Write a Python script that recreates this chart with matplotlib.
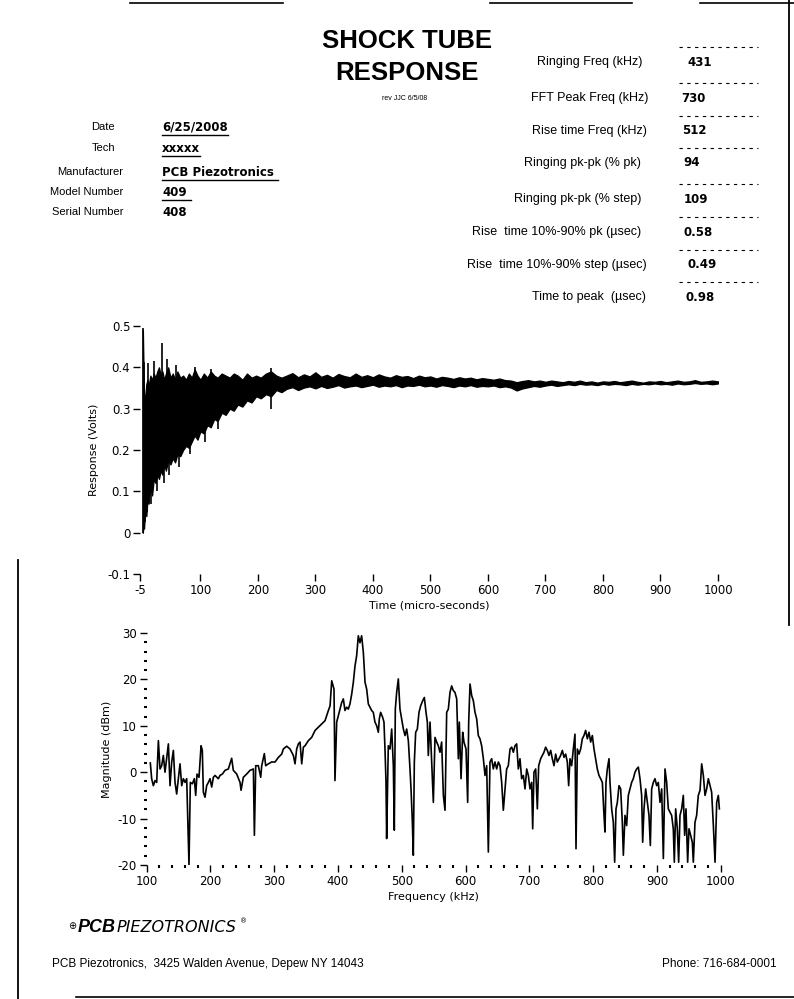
import matplotlib
matplotlib.use("Agg")
import matplotlib.pyplot as plt
from matplotlib.lines import Line2D
from matplotlib.ticker import MultipleLocator

plt.rcParams['axes.unicode_minus'] = False
plt.rcParams['font.family'] = ['DejaVu Sans']

W, H = 794, 999

# ---- report fields ----
form_labels = ['Date', 'Tech', 'Manufacturer', 'Model Number', 'Serial Number']
form_values = ['6/25/2008', 'xxxxx', 'PCB Piezotronics', '409', '408']

info_labels = ['Ringing Freq (kHz)', 'FFT Peak Freq (kHz)', 'Rise time Freq (kHz)',
               'Ringing pk-pk (% pk)', 'Ringing pk-pk (% step)',
               'Rise  time 10%-90% pk (\u00b5sec)', 'Rise  time 10%-90% step (\u00b5sec)',
               'Time to peak  (\u00b5sec)']
info_values = ['431', '730', '512', '94', '109', '0.58', '0.49', '0.98']

# ---- time response (envelope of the ringing, volts) ----
t_env = [0, 1, 2, 4, 6, 8, 10, 13, 16, 19, 22, 25, 28, 31, 34, 37, 40, 44, 48, 52,
         56, 60, 65, 70, 75, 80, 85, 90, 95, 100, 106, 112, 118, 124, 130, 137, 144,
         151, 158, 165, 173, 181, 189, 197, 205, 214, 223, 232, 241,
         250, 260, 270, 280, 290, 300, 310, 320, 330, 340, 350, 360, 370, 380, 390,
         400, 410, 420, 430, 440, 450, 460, 470, 480, 490, 500, 510, 520, 530, 540,
         550, 560, 570, 580, 590, 600, 610, 620, 630, 640, 650, 660, 670, 680, 690,
         700, 710, 720, 730, 740, 750, 760, 770, 780, 790, 800, 810, 820, 830, 840,
         850, 860, 870, 880, 890, 900, 910, 920, 930, 940, 950, 960, 970, 980, 990,
         1000]
v_upper = [0.49, 0.41, 0.32, 0.33, 0.36, 0.37, 0.355, 0.38, 0.37, 0.385,
           0.375, 0.39, 0.40, 0.38, 0.39, 0.37, 0.385, 0.40, 0.375, 0.385,
           0.37, 0.39, 0.375, 0.38, 0.37, 0.385, 0.375, 0.395, 0.38, 0.37,
           0.385, 0.375, 0.39, 0.38, 0.375, 0.385, 0.38, 0.375, 0.385, 0.38,
           0.37, 0.385, 0.375, 0.38, 0.375, 0.385, 0.39, 0.38, 0.375,
           0.38, 0.386, 0.376, 0.383, 0.378, 0.388, 0.377, 0.382, 0.375, 0.384,
           0.379, 0.376, 0.385, 0.377, 0.381, 0.376, 0.383, 0.378, 0.375, 0.381,
           0.377, 0.379, 0.374, 0.38, 0.376, 0.378, 0.373, 0.377, 0.375, 0.372,
           0.376, 0.373, 0.375, 0.371, 0.374, 0.372, 0.37, 0.373, 0.369, 0.368,
           0.364, 0.367, 0.369, 0.366, 0.368, 0.365, 0.368, 0.366, 0.364, 0.367,
           0.365, 0.368, 0.364, 0.366, 0.363, 0.366, 0.365, 0.367, 0.364, 0.366,
           0.368, 0.365, 0.363, 0.366, 0.365, 0.367, 0.364, 0.366, 0.368, 0.365,
           0.366, 0.369, 0.365, 0.366, 0.368, 0.366]
v_lower = [0.0, 0.02, 0.01, 0.05, 0.04, 0.08, 0.07, 0.11, 0.09, 0.13,
           0.12, 0.14, 0.13, 0.15, 0.14, 0.165, 0.15, 0.175, 0.165, 0.18,
           0.17, 0.19, 0.185, 0.2, 0.21, 0.205, 0.22, 0.235, 0.225, 0.245,
           0.24, 0.26, 0.255, 0.275, 0.27, 0.29, 0.285, 0.3, 0.295, 0.31,
           0.305, 0.32, 0.315, 0.33, 0.325, 0.335, 0.33, 0.345, 0.34,
           0.348, 0.352, 0.345, 0.351, 0.354, 0.349, 0.355, 0.35, 0.353, 0.357,
           0.351, 0.354, 0.356, 0.352, 0.355, 0.358, 0.353, 0.356, 0.354, 0.357,
           0.352, 0.356, 0.355, 0.358, 0.354, 0.356, 0.353, 0.357, 0.355, 0.352,
           0.356, 0.354, 0.357, 0.353, 0.355, 0.354, 0.356, 0.352, 0.354, 0.351,
           0.344, 0.349, 0.352, 0.355, 0.353, 0.356, 0.358, 0.355, 0.357, 0.359,
           0.357, 0.36, 0.358, 0.359, 0.357, 0.36, 0.358, 0.36, 0.359, 0.357,
           0.36, 0.358, 0.36, 0.359, 0.361, 0.359, 0.36, 0.358, 0.361, 0.359,
           0.36, 0.362, 0.36, 0.361, 0.359, 0.361]
# single ringing peaks that stick out of the envelope
spike_up_t = [0.3, 1.2, 9, 20, 32.5, 42, 58, 90, 118, 223]
spike_up_v = [0.495, 0.414, 0.41, 0.415, 0.459, 0.42, 0.405, 0.40, 0.395, 0.398]
spike_dn_t = [0.5, 3, 7, 14, 24, 36, 46, 62, 82, 108, 130]
spike_dn_v = [0.0, 0.025, 0.05, 0.07, 0.1, 0.12, 0.14, 0.16, 0.19, 0.22, 0.25]

# ---- FFT magnitude (kHz, dBm) ----
freq = [106.0, 108.1, 110.7, 113.4, 116.0, 118.6, 121.2, 123.8, 126.4, 129.0, 131.6,
        134.3, 136.9, 139.5, 142.1, 144.7, 147.3, 149.9, 152.5, 155.2, 157.8, 160.4,
        163.0, 164.6, 166.6, 168.7, 171.9, 175.0, 177.1, 179.2, 182.3, 185.5, 187.5,
        189.1, 191.7, 194.3, 197.0, 199.6, 202.2, 204.8, 207.4, 212.6, 215.2, 218.9,
        223.1, 228.3, 233.5, 236.1, 241.4, 246.6, 248.2, 251.8, 257.0, 262.3, 267.5,
        269.1, 271.2, 275.3, 279.0, 280.6, 284.7, 286.8, 291.0, 296.2, 301.5, 306.7,
        311.9, 314.5, 319.7, 325.0, 330.2, 332.8, 335.4, 338.0, 340.6, 343.3, 345.9,
        348.5, 353.7, 358.9, 364.2, 369.4, 374.6, 379.8, 385.1, 387.7, 390.3, 393.9,
        395.4, 398.1, 400.7, 403.3, 405.9, 408.5, 411.1, 413.7, 416.3, 418.9, 421.6,
        424.2, 426.8, 429.4, 432.0, 434.6, 437.2, 439.9, 442.5, 445.1, 447.7, 450.3,
        452.9, 455.5, 458.1, 460.8, 463.4, 464.9, 467.0, 470.2, 472.2, 473.8, 475.4,
        476.4, 479.0, 481.7, 484.3, 486.9, 488.4, 490.0, 492.1, 494.7, 497.3, 499.9,
        502.6, 505.2, 507.8, 510.4, 513.0, 514.6, 516.7, 518.2, 519.8, 521.9, 524.5,
        527.1, 529.7, 532.9, 535.5, 538.1, 540.2, 541.7, 544.4, 547.0, 549.6, 552.2,
        554.8, 557.4, 560.0, 562.6, 565.3, 567.9, 570.5, 573.1, 575.7, 578.3, 580.9,
        583.5, 586.2, 588.8, 590.3, 593.0, 595.6, 597.6, 600.8, 603.4, 605.0, 607.1,
        609.7, 612.3, 614.9, 617.5, 620.1, 622.7, 625.3, 628.0, 630.6, 633.2, 635.8,
        638.4, 641.0, 643.6, 646.2, 648.9, 651.5, 654.1, 656.7, 659.3, 661.9, 664.5,
        667.1, 669.8, 672.4, 675.0, 677.6, 680.2, 682.8, 685.4, 688.0, 690.7, 693.3,
        695.9, 698.5, 701.1, 703.7, 705.3, 707.3, 710.0, 712.6, 714.7, 717.8, 720.4,
        723.0, 725.6, 728.2, 730.9, 733.5, 736.1, 738.7, 741.3, 743.9, 746.5, 749.1,
        751.8, 754.4, 757.0, 759.6, 761.7, 763.8, 766.4, 769.0, 771.6, 773.2, 775.3,
        777.9, 780.5, 783.1, 785.7, 788.3, 791.0, 793.6, 796.2, 798.8, 801.4, 804.0,
        806.6, 809.2, 811.8, 814.5, 817.1, 818.6, 820.2, 822.3, 824.9, 826.5, 829.1,
        831.7, 833.8, 835.9, 838.0, 840.6, 843.2, 845.8, 847.4, 850.0, 852.6, 855.2,
        857.8, 860.4, 863.0, 865.7, 868.3, 870.9, 873.5, 876.1, 877.7, 879.8, 882.4,
        885.0, 887.6, 889.7, 891.8, 894.4, 897.0, 899.6, 902.2, 904.9, 907.5, 910.1,
        912.7, 915.3, 917.9, 920.5, 923.1, 925.7, 927.3, 929.4, 932.0, 934.1, 936.2,
        938.8, 941.4, 943.5, 945.6, 948.2, 950.3, 952.9, 955.5, 957.1, 959.7, 962.3,
        964.9, 967.6, 970.2, 972.8, 975.4, 978.0, 980.6, 983.2, 985.8, 988.5, 991.1,
        993.7, 996.3, 997.9]
mag = [2.0, -1.4, -2.9, -1.8, -2.2, 6.8, 0.7, 1.4, 3.6, 0.0, 2.9,
       6.1, -2.9, 2.2, 4.7, -2.2, -4.7, -1.4, 1.8, -2.9, -1.4, -2.2,
       -1.4, -9.7, -20.0, -2.2, -2.5, -1.4, -5.0, -0.4, -1.1, 5.7, 4.7,
       -4.3, -5.4, -2.9, -2.2, -1.4, -3.2, -1.1, -0.7, -1.4, -0.7, -0.4,
       0.4, 0.7, 3.0, 0.4, -0.4, -2.2, -3.9, -1.1, -0.4, 0.4, 0.7,
       -13.6, 1.4, 1.4, -1.1, 1.4, 4.0, 1.4, 1.8, 2.2, 2.2, 3.2,
       3.9, 5.0, 5.6, 5.0, 3.6, 1.8, 5.0, 6.1, 6.5, 1.8, 5.4,
       5.7, 6.8, 7.5, 9.0, 9.7, 10.4, 11.1, 13.3, 14.3, 19.7, 17.9,
       -1.8, 10.8, 12.2, 13.6, 15.0, 15.8, 13.3, 14.0, 13.6, 14.7, 16.8,
       19.4, 22.9, 25.1, 29.4, 27.9, 29.4, 25.8, 19.4, 17.9, 14.7, 14.0,
       13.3, 12.9, 10.8, 10.0, 8.6, 11.5, 12.9, 11.8, 10.8, 5.0, -2.2,
       -14.3, 5.7, 5.0, 9.3, 1.4, -12.5, 13.6, 17.2, 20.1, 13.6, 11.5,
       9.3, 7.9, 9.3, 6.8, 0.7, -3.6, -10.8, -17.9, 2.2, 8.6, 9.3,
       12.9, 14.3, 15.4, 16.1, 12.9, 10.8, 3.6, 10.8, 2.2, -6.5, 7.5,
       6.5, 5.7, 4.3, 6.5, -5.0, -8.2, 12.9, 13.6, 17.2, 18.6, 17.6,
       17.2, 15.8, 2.9, 10.8, -1.4, 8.6, 6.5, 5.0, -6.5, 10.8, 19.0,
       16.5, 15.4, 12.9, 11.5, 7.9, 7.2, 5.7, 2.9, -0.7, 1.4, -17.2,
       2.2, 2.9, 0.7, 2.2, 0.7, 2.2, 1.4, -2.2, -8.2, -3.6, 0.7,
       1.4, 5.0, 5.4, 4.3, 5.7, 6.1, 0.7, 2.9, -1.4, -0.7, -3.6,
       0.7, -0.7, -3.6, -2.2, -12.2, 0.0, 0.7, -7.9, 1.4, 2.9, 3.6,
       4.3, 5.4, 4.7, 3.6, 4.7, 2.9, 1.4, 3.9, 2.2, 2.9, 3.6,
       4.7, 3.2, 3.9, 2.2, -2.9, 2.9, 1.4, 5.0, 8.2, -16.5, 5.0,
       3.9, 5.0, 7.2, 7.9, 9.0, 7.2, 8.6, 6.5, 7.9, 5.0, 2.9,
       0.7, -0.7, -1.4, -2.2, -9.3, -12.9, -2.2, 0.7, 2.9, -2.2, -7.9,
       -10.8, -19.4, -7.9, -6.5, -2.9, -3.6, -10.8, -17.9, -9.3, -11.5, -5.0,
       -3.6, -2.2, -1.4, 0.0, 0.7, 1.1, -1.4, -5.0, -15.1, -7.9, -3.6,
       -6.5, -9.3, -15.8, -3.6, -2.2, -1.4, -2.9, -2.2, -6.5, -3.6, -18.6,
       0.7, -2.2, -7.9, -8.6, -9.3, -12.2, -19.4, -7.9, -12.2, -19.4, -9.3,
       -7.9, -5.0, -13.6, -7.9, -19.4, -12.2, -13.6, -15.1, -19.4, -10.8, -9.3,
       -5.0, -3.9, 1.8, -0.7, -5.0, -3.6, -1.4, -2.9, -4.3, -11.5, -19.4,
       -6.5, -5.0, -7.9]


def fx(px):
    return px / W


def fy(py):
    return 1 - py / H


fig = plt.figure(figsize=(W / 100, H / 100), dpi=100)

# title block
fig.text(fx(407), fy(41), 'SHOCK TUBE', family='Liberation Sans', weight='bold',
         fontsize=18.5, ha='center', va='center')
fig.text(fx(407), fy(73), 'RESPONSE', family='Liberation Sans', weight='bold',
         fontsize=18.5, ha='center', va='center')
fig.text(fx(405), fy(98), 'rev JJC 6/5/08', family='Liberation Sans', fontsize=5,
         ha='center', va='center')

# left form fields
form_y = [127, 148, 172, 192, 212]
form_right = [115, 115, 123, 123, 123]
value_texts = []
for lab, val, y, xr in zip(form_labels, form_values, form_y, form_right):
    fig.text(fx(xr), fy(y), lab, family='Liberation Sans', fontsize=8,
             ha='right', va='center')
    value_texts.append(fig.text(fx(162), fy(y), val, weight='bold', fontsize=8.5,
                                ha='left', va='center'))

# right results
info_y = [62, 98, 131, 163, 199, 232, 265, 297]
info_right = [642, 648, 647, 641, 641, 641, 647, 646]
info_x = [687, 681, 682, 683, 684, 683, 687, 686]
for lab, val, y, xr, xv in zip(info_labels, info_values, info_y, info_right, info_x):
    fig.text(fx(xr), fy(y), lab, family='Liberation Sans', fontsize=9,
             ha='right', va='center')
    fig.text(fx(xv), fy(y), val, weight='bold', fontsize=8.5, ha='left', va='center')
    # remains of the form field border
    fig.add_artist(Line2D([fx(679), fx(758)], [fy(y - 15), fy(y - 15)], color='black',
                          lw=0.8, ls=(0, (3, 4))))

# ---- response plot ----
ax1 = fig.add_axes([fx(140), fy(574), fx(718) - fx(140), fy(326) - fy(574)])
ax1.fill_between(t_env, v_lower, v_upper, color='black', lw=0.9)
ax1.vlines(spike_up_t, 0.3, spike_up_v, color='black', lw=1.2)
ax1.vlines(spike_dn_t, spike_dn_v, 0.3, color='black', lw=1.2)
ax1.set_xlim(-5, 1000)
ax1.set_ylim(-0.1, 0.5)
ax1.set_xticks([-5, 100, 200, 300, 400, 500, 600, 700, 800, 900, 1000])
ax1.set_xticklabels(['-5', '100', '200', '300', '400', '500', '600', '700', '800',
                     '900', '1000'])
ax1.set_yticks([-0.1, 0, 0.1, 0.2, 0.3, 0.4, 0.5])
ax1.set_yticklabels(['-0.1', '0', '0.1', '0.2', '0.3', '0.4', '0.5'])
ax1.tick_params(direction='out', length=5, width=1, labelsize=8.5, pad=2)
ax1.set_xlabel('Time (micro-seconds)', fontsize=8, labelpad=3)
ax1.set_ylabel('Response (Volts)', fontsize=8, labelpad=6)
for s in ax1.spines.values():
    s.set_visible(False)

# ---- FFT plot ----
ax2 = fig.add_axes([fx(146.5), fy(865), fx(720.7) - fx(146.5), fy(633) - fy(865)])
ax2.plot(freq, mag, color='black', lw=1.2)
ax2.set_xlim(100, 1000)
ax2.set_ylim(-20, 30)
ax2.xaxis.set_major_locator(MultipleLocator(100))
ax2.xaxis.set_minor_locator(MultipleLocator(20))
ax2.yaxis.set_major_locator(MultipleLocator(10))
ax2.yaxis.set_minor_locator(MultipleLocator(2))
ax2.tick_params(which='major', direction='out', length=5, width=1, labelsize=8.5, pad=2)
ax2.tick_params(which='minor', direction='out', length=2, width=1.5)
ax2.set_xlabel('Frequency (kHz)', fontsize=8, labelpad=3)
ax2.set_ylabel('Magnitude (dBm)', fontsize=8, labelpad=4)
for s in ax2.spines.values():
    s.set_visible(False)

# logo and footer
fig.text(fx(72), fy(926), '\u2295', fontsize=7, ha='center', va='center')
fig.text(fx(78), fy(928), 'PCB', family='Liberation Sans', weight='bold',
         style='italic', fontsize=13, ha='left', va='center')
fig.text(fx(117), fy(928), 'PIEZOTRONICS', family=['Liberation Sans Narrow', 'DejaVu Sans'],
         style='italic', fontsize=11.5, ha='left', va='center')
fig.text(fx(240), fy(921), '\u00ae', fontsize=5, ha='left', va='center')
fig.text(fx(52), fy(964), 'PCB Piezotronics,  3425 Walden Avenue, Depew NY 14043',
         family='Liberation Sans', fontsize=8.5, ha='left', va='center')
fig.text(fx(777), fy(964), 'Phone: 716-684-0001', family='Liberation Sans',
         fontsize=8.5, ha='right', va='center')

# scanned page edges
for x0, x1, y in [(130, 283, 3), (490, 632, 3), (700, 794, 3), (76, 794, 997)]:
    fig.add_artist(Line2D([fx(x0), fx(x1)], [fy(y), fy(y)], color='black', lw=1.2))
fig.add_artist(Line2D([fx(789), fx(789)], [fy(0), fy(625)], color='black', lw=1.3))
fig.add_artist(Line2D([fx(18), fx(18)], [fy(560), fy(999)], color='black', lw=1.3))

# underlines of the filled-in fields
fig.canvas.draw()
rend = fig.canvas.get_renderer()
for txt, extra in zip(value_texts[:4], [0, 0, 4, 4]):
    bb = txt.get_window_extent(rend)
    yline = (bb.y0 - 1) / H
    fig.add_artist(Line2D([bb.x0 / W, (bb.x1 + extra) / W], [yline, yline],
                          color='black', lw=1.0))

fig.savefig('out.png', dpi=100)
